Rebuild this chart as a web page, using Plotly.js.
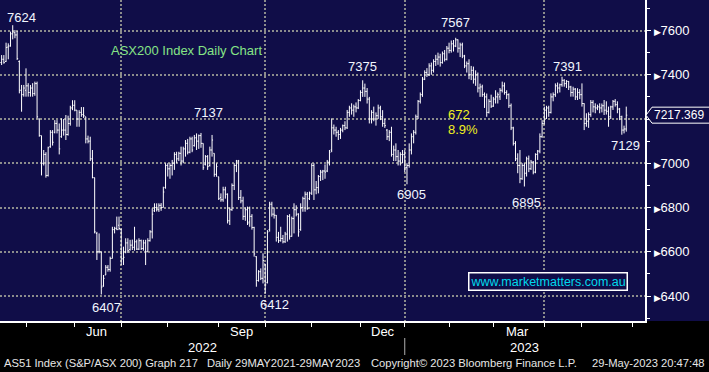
<!DOCTYPE html>
<html><head><meta charset="utf-8">
<script src="https://cdn.plot.ly/plotly-3.0.1.min.js"></script>
<style>html,body{margin:0;padding:0;background:#000;}#chart{width:709px;height:372px;}</style>
</head><body><div id="chart"></div>
<script>
// ---- data (ASX200 daily OHLC) ----
const startDate = '2022-04-11';
const holidays = ['2022-04-15','2022-04-18','2022-04-25','2022-06-13','2022-09-22','2022-12-26','2022-12-27','2023-01-02','2023-01-26','2023-04-07','2023-04-10','2023-04-25'];
const open = [
7480,7455,7470,7460,7525,7530,7585,7590,7580,7460,
7330,7310,7330,7350,7320,7340,7315,7360,7200,7125,
7000,7040,6945,7075,7140,7140,7180,7150,7120,7150,
7150,7130,7180,7250,7262,7240,7200,7230,7220,7210,
7110,7100,7020,6935,6683,6600,6600,6445,6495,6530,
6520,6570,6700,6706,6720,6700,6568,6600,6640,6610,
6630,6620,6645,6612,6650,6615,6640,6600,6650,6690,
6785,6800,6790,6810,6800,6890,6990,6975,6990,7000,
7040,7020,7045,7010,7065,7090,7050,7110,7080,7115,
7100,7125,7090,6995,7030,6990,7060,7045,6950,6939,
6845,6835,6880,6860,6740,6790,6900,6990,7010,6845,
6830,6760,6790,6735,6760,6710,6578,6470,6510,6480,
6545,6460,6700,6815,6770,6765,6665,6650,6660,6645,
6680,6760,6670,6750,6790,6770,6700,6800,6840,6860,
6840,6865,6990,6880,6890,6940,6960,6965,6965,7005,
7060,7160,7150,7140,7130,7150,7170,7160,7230,7250,
7240,7255,7250,7284,7320,7340,7325,7290,7200,7230,
7200,7215,7250,7210,7180,7150,7120,7140,7040,7060,
7030,7010,7040,7040,6980,6990,7060,7120,7140,7210,
7280,7310,7380,7410,7400,7440,7420,7460,7470,7480,
7455,7495,7470,7520,7510,7540,7530,7558,7520,7535,
7485,7440,7450,7400,7420,7380,7400,7340,7345,7310,
7300,7230,7280,7258,7290,7300,7300,7330,7350,7320,
7310,7260,7160,7090,7020,6990,6930,6990,6955,7020,
6975,7005,6960,7040,7055,7120,7180,7240,7250,7230,
7300,7310,7350,7340,7355,7375,7360,7370,7345,7320,
7335,7300,7320,7310,7270,7180,7190,7220,7275,7255,
7250,7255,7250,7260,7240,7235,7210,7255,7280,7265,
7245,7210,7150,7155];
const high = [
7517,7489,7489,7545,7542,7595,7624,7602,7598,7465,
7354,7354,7429,7362,7354,7362,7369,7369,7203,7125,
7060,7050,7075,7150,7150,7195,7195,7180,7203,7200,
7218,7215,7260,7285,7285,7240,7240,7254,7254,7210,
7125,7120,7060,6935,6690,6683,6600,6495,6540,6540,
6578,6713,6713,6759,6759,6705,6623,6661,6661,6654,
6655,6713,6655,6661,6655,6654,6654,6661,6698,6796,
6819,6819,6819,6820,6894,7000,7000,7000,7015,7050,
7052,7052,7075,7075,7105,7110,7120,7120,7128,7135,
7130,7137,7090,7037,7037,7075,7128,7045,7000,6939,
6864,6894,6894,6864,6800,6909,7000,7015,7015,6879,
6849,6800,6804,6804,6770,6713,6580,6517,6525,6593,
6545,6698,6826,6826,6800,6766,6690,6713,6676,6690,
6766,6770,6759,6819,6810,6774,6819,6849,6872,6870,
6872,7000,7000,6920,6947,6970,6970,6995,7015,7060,
7203,7175,7165,7150,7160,7175,7190,7241,7260,7271,
7265,7275,7290,7330,7375,7360,7340,7300,7240,7256,
7230,7265,7260,7240,7200,7155,7150,7165,7080,7090,
7060,7050,7060,7060,7000,7090,7135,7150,7220,7286,
7320,7390,7420,7430,7452,7455,7470,7490,7500,7495,
7505,7512,7530,7545,7555,7557,7567,7560,7545,7545,
7490,7460,7470,7440,7437,7420,7410,7360,7355,7320,
7315,7290,7310,7300,7330,7320,7340,7369,7365,7330,
7316,7270,7165,7100,7045,7060,7000,7000,7030,7035,
7015,7010,7045,7060,7135,7195,7256,7260,7260,7316,
7320,7361,7365,7360,7391,7380,7376,7372,7350,7346,
7340,7339,7335,7361,7271,7226,7230,7286,7285,7271,
7265,7271,7270,7286,7280,7256,7260,7286,7290,7280,
7250,7215,7170,7256];
const low = [
7436,7444,7450,7458,7470,7527,7560,7565,7467,7316,
7233,7301,7301,7301,7301,7301,7305,7203,7120,6945,
6990,6935,6940,7070,7080,7135,7135,7040,7115,7125,
7105,7125,7170,7240,7235,7165,7165,7210,7205,7090,
7090,7010,6932,6683,6563,6593,6407,6442,6495,6510,
6510,6570,6683,6698,6698,6540,6540,6593,6595,6605,
6608,6605,6608,6608,6608,6605,6540,6600,6646,6660,
6780,6782,6780,6785,6800,6885,6940,6930,6945,6970,
7000,7010,6990,7000,7030,7040,7045,7050,7075,7060,
7065,7070,6970,6990,6970,6985,7030,6939,6939,6834,
6826,6826,6840,6728,6721,6785,6879,6960,6834,6819,
6744,6740,6721,6713,6700,6578,6442,6465,6472,6457,
6412,6457,6691,6759,6750,6646,6640,6646,6638,6640,
6646,6655,6668,6683,6760,6668,6695,6781,6781,6790,
6834,6857,6834,6860,6864,6920,6924,6930,6960,6990,
7050,7130,7120,7105,7110,7140,7150,7155,7210,7220,
7210,7230,7245,7280,7300,7300,7270,7180,7180,7190,
7170,7200,7195,7165,7160,7105,7100,7030,7010,7010,
6990,6990,7000,6960,6905,6980,7040,7090,7130,7200,
7270,7300,7376,7390,7395,7400,7410,7440,7445,7437,
7450,7460,7465,7497,7500,7505,7525,7500,7480,7475,
7430,7410,7380,7376,7360,7350,7320,7300,7300,7250,
7210,7225,7250,7255,7270,7270,7286,7320,7310,7290,
7250,7150,7080,7010,6955,6910,6925,6895,6940,6960,
6970,6950,6955,7015,7045,7115,7175,7200,7210,7225,
7280,7300,7316,7320,7346,7346,7340,7331,7301,7301,
7286,7286,7290,7256,7150,7165,7160,7210,7230,7226,
7240,7226,7230,7218,7220,7165,7200,7241,7256,7226,
7195,7129,7135,7143];
const close = [
7455,7470,7455,7523,7530,7585,7593,7580,7473,7330,
7310,7340,7350,7320,7340,7315,7360,7210,7125,7000,
7040,6945,7070,7140,7095,7180,7150,7065,7150,7150,
7130,7180,7250,7262,7240,7200,7230,7220,7215,7110,
7100,7020,6935,6690,6600,6600,6440,6480,6530,6520,
6570,6700,6706,6700,6705,6568,6575,6640,6605,6630,
6620,6645,6612,6650,6615,6640,6600,6650,6690,6770,
6800,6790,6810,6800,6870,6990,6975,6990,7000,7040,
7020,7045,7010,7065,7090,7050,7110,7060,7115,7100,
7125,7090,6980,7030,6985,7060,7105,6950,6985,6840,
6835,6880,6860,6740,6790,6900,6990,7010,6845,6830,
6760,6790,6730,6760,6710,6590,6470,6510,6480,6560,
6450,6690,6815,6770,6765,6665,6650,6660,6645,6680,
6760,6670,6750,6790,6770,6690,6800,6840,6860,6795,
6865,6990,6880,6890,6940,6960,6965,6960,7005,7050,
7160,7150,7140,7130,7150,7170,7160,7230,7250,7240,
7255,7250,7284,7320,7340,7325,7290,7200,7230,7200,
7215,7250,7210,7180,7170,7120,7140,7040,7060,7030,
7010,7040,7039,6980,6990,7060,7120,7140,7210,7280,
7310,7380,7410,7400,7440,7420,7460,7470,7480,7455,
7495,7470,7520,7510,7540,7530,7558,7520,7535,7485,
7440,7450,7400,7420,7380,7400,7340,7345,7310,7300,
7230,7280,7258,7290,7300,7310,7330,7350,7320,7310,
7260,7160,7090,7020,6990,6930,6990,6955,7020,6975,
7005,6960,7040,7055,7120,7180,7240,7250,7230,7300,
7310,7350,7340,7355,7375,7360,7370,7345,7320,7335,
7300,7320,7310,7270,7180,7190,7220,7275,7255,7250,
7255,7250,7260,7240,7235,7210,7255,7280,7265,7245,
7210,7150,7155,7217.369];

const yTickVals = [6400,6600,6800,7000,7200,7400,7600];
const monthStarts = ['2022-05-02','2022-06-01','2022-07-01','2022-08-01','2022-09-01','2022-10-03','2022-11-01','2022-12-01','2023-01-03','2023-02-01','2023-03-01','2023-04-03','2023-05-01','2023-06-01'];
const quarterStarts = ['2022-07-01','2022-10-03','2023-01-03','2023-04-03'];
const monthLabels = ['Jun','Sep','Dec','Mar'];
const monthLabelDates = ['2022-06-16','2022-09-15 12:00','2022-12-15','2023-03-16'];
const yearLabels = ['2022','2023'];
const labelValues = [7624,6407,7137,6412,7375,6905,7567,6895,7391,7129];
const labelIdx = [6,46,91,120,164,184,206,237,254,281];
const labelSide = ['H','L','H','L','H','L','H','L','H','L'];
const footer = ['AS51 Index (S&P/ASX 200) Graph 217','Daily 29MAY2021-29MAY2023','Copyright\u00a9 2023 Bloomberg Finance L.P.','29-May-2023 20:47:48'];

// ---- trading dates ----
function tradingDates(start, n, hol) {
  const out = [], hs = new Set(hol);
  const d = new Date(start + 'T00:00:00Z');
  while (out.length < n) {
    const wd = d.getUTCDay(), s = d.toISOString().slice(0,10);
    if (wd !== 0 && wd !== 6 && !hs.has(s)) out.push(s);
    d.setUTCDate(d.getUTCDate() + 1);
  }
  return out;
}
const dates = tradingDates(startDate, close.length, holidays);

// ---- styles ----
const NAVY = '#100d48';
const FONT = 'Liberation Sans, Arial, sans-serif';
const NARROW = 'Liberation Sans Narrow, Arial Narrow, Liberation Sans, sans-serif';
const PW = 645, PH = 321;
const labelShift = [[9,8],[5,-13],[7.5,20],[9,-11],[0,14],[5,-10],[0,15],[2.5,-15.5],[5,10],[4,-11]];

const annotations = [];
labelValues.forEach((v, k) => {
  const i = labelIdx[k];
  annotations.push({xref:'x', yref:'y', x:dates[i], y: labelSide[k]==='H' ? high[i] : low[i],
    text:String(v), showarrow:false, xanchor:'center', yanchor:'middle',
    xshift:labelShift[k][0], yshift:labelShift[k][1], font:{family:FONT, size:13, color:'#f2f6ff'}});
});
annotations.push({xref:'paper', yref:'paper', x:186.5/PW, y:1-50/PH, text:'ASX200 Index Daily Chart', showarrow:false,
  xanchor:'center', yanchor:'middle', font:{family:FONT, size:13, color:'#86e486'}});
const diff = labelValues[6] - labelValues[7];
annotations.push({xref:'paper', yref:'paper', x:446/PW, y:1-114/PH, text:String(diff), showarrow:false,
  xanchor:'left', yanchor:'middle', font:{family:FONT, size:13, color:'#f0f020'}});
annotations.push({xref:'paper', yref:'paper', x:446/PW, y:1-129.5/PH, text:(diff/labelValues[6]*100).toFixed(1)+'%', showarrow:false,
  xanchor:'left', yanchor:'middle', font:{family:FONT, size:13, color:'#f0f020'}});
annotations.push({xref:'paper', yref:'paper', x:548/PW, y:1-281/PH, text:'www.marketmatters.com.au', showarrow:false,
  xanchor:'center', yanchor:'middle', bgcolor:NAVY, bordercolor:'#ffffff', borderwidth:1.5, borderpad:1,
  font:{family:FONT, size:12.5, color:'#00d8ec'}});
const last = close[close.length-1];
annotations.push({xref:'paper', yref:'y', x:652/PW, y:last, text:last.toFixed(3), showarrow:false,
  xanchor:'left', yanchor:'middle', font:{family:FONT, size:12, color:'#ffffff'}});
monthLabels.forEach((m, k) => annotations.push({xref:'x', yref:'paper', x:monthLabelDates[k], y:-11/PH, text:m,
  showarrow:false, xanchor:'center', yanchor:'middle', font:{family:NARROW, size:13, color:'#ffffff'}}));
[202, 524].forEach((px, k) => annotations.push({xref:'paper', yref:'paper', x:px/PW, y:-26/PH, text:yearLabels[k],
  showarrow:false, xanchor:'center', yanchor:'middle', font:{family:NARROW, size:13, color:'#ffffff'}}));
const footX = [2, 205, 369, 707], footA = ['left','left','left','right'];
footer.forEach((t, k) => annotations.push({xref:'paper', yref:'paper', x:footX[k]/PW, y:-42/PH, text:t,
  showarrow:false, xanchor:footA[k], yanchor:'middle', font:{family:NARROW, size:11.2, color:'#e6e6e6'}}));

const shapes = [
  {type:'rect', xref:'paper', yref:'paper', x0:1, x1:709/PW, y0:0, y1:1, fillcolor:NAVY, line:{width:0}, layer:'below'},
  {type:'line', xref:'x', yref:'paper', x0:quarterStarts[2], x1:quarterStarts[2], y0:-17/PH, y1:-34/PH, line:{color:'#b0b0b0', width:1}},
  {type:'path', xref:'paper', yref:'y', xsizemode:'pixel', ysizemode:'pixel', xanchor:646/PW, yanchor:last,
   path:'M0,0 L6,8 L64,8 L64,-8 L6,-8 Z', fillcolor:NAVY, line:{color:'#ffffff', width:1}, layer:'above'}
];

const trace = {type:'ohlc', x:dates, open:open, high:high, low:low, close:close,
  increasing:{line:{color:'#ffffff', width:1}}, decreasing:{line:{color:'#ffffff', width:1}},
  tickwidth:0.45, hoverinfo:'skip', showlegend:false};

const layout = {
  width:709, height:372, margin:{l:0, r:64, t:0, b:51, pad:0},
  paper_bgcolor:'#000000', plot_bgcolor:NAVY, showlegend:false,
  xaxis:{type:'date', range:['2022-04-11 06:17','2023-06-08 11:00'],
    rangebreaks:[{bounds:['sat','mon']},{values:holidays}],
    rangeslider:{visible:false}, tickmode:'array', tickvals:quarterStarts, showticklabels:false,
    ticks:'outside', ticklen:4, tickcolor:'#ffffff', tickwidth:1,
    showgrid:true, gridcolor:'#8c8c8c', griddash:'2px,2px', gridwidth:2,
    showline:true, linecolor:'#ffffff', linewidth:2, zeroline:false, fixedrange:true,
    minor:{tickmode:'array', tickvals:monthStarts, ticks:'outside', ticklen:4, tickcolor:'#ffffff', tickwidth:1, showgrid:false}},
  yaxis:{side:'right', range:[6287.1,7737.9], tickmode:'array', tickvals:yTickVals,
    ticktext:yTickVals.map(v => v === 7200 ? '' : '<span style="font-size:9px">\u25B6</span>' + v),
    ticks:'outside', ticklen:4, tickcolor:'#ffffff', tickwidth:1,
    showgrid:true, gridcolor:'#8c8c8c', griddash:'2px,2px', gridwidth:2,
    showline:true, linecolor:'#ffffff', linewidth:2, zeroline:false, fixedrange:true,
    tickfont:{family:FONT, size:13, color:'#ffffff'},
    minor:{dtick:100, tick0:0, ticks:'outside', ticklen:3, tickcolor:'#ffffff', tickwidth:1, showgrid:false}},
  annotations:annotations, shapes:shapes
};
Plotly.newPlot('chart', [trace], layout, {staticPlot:true, displayModeBar:false});
</script></body></html>
